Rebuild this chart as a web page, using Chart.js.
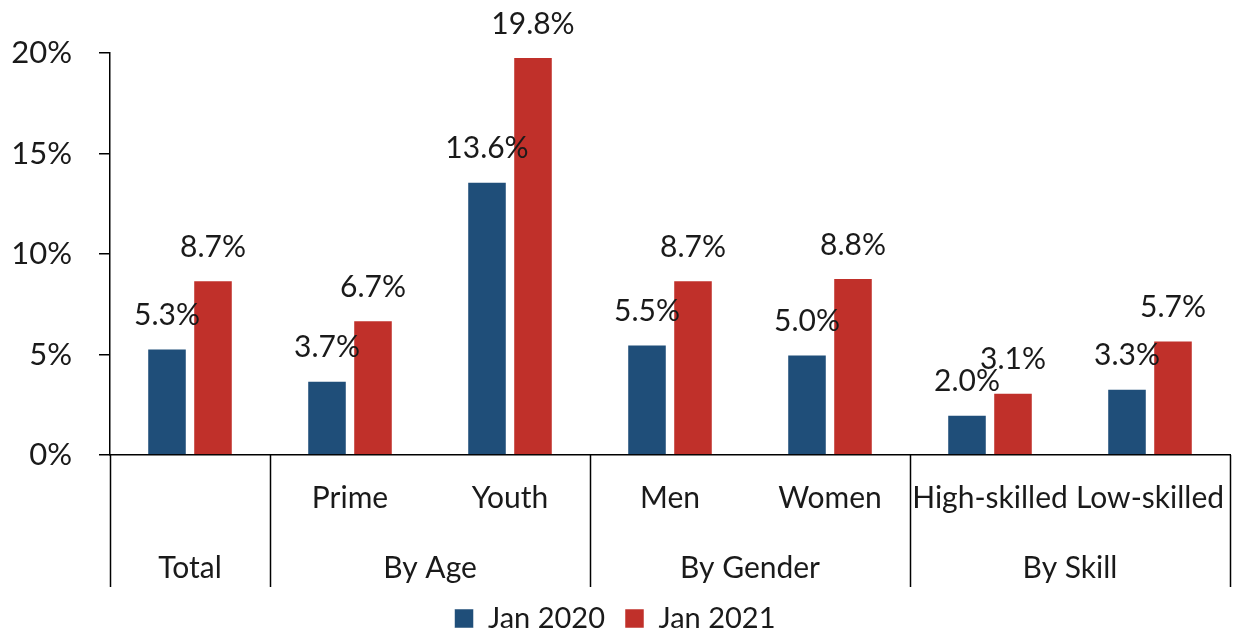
<!DOCTYPE html>
<html>
<head>
<meta charset="utf-8">
<script src="https://cdn.jsdelivr.net/npm/chart.js@4"></script>
<style>
    html, body { margin: 0; padding: 0; background: #fff; }
    #wrap { width: 1235px; height: 631px; }
</style>
</head>
<body>
<div id="wrap"><canvas id="unempChart" width="1235" height="631"></canvas></div>
<script>
// categories and groups
const categories = ['Total', 'Prime', 'Youth', 'Men', 'Women', 'High-skilled', 'Low-skilled'];
const catLabels = ['', 'Prime', 'Youth', 'Men', 'Women', 'High-skilled', 'Low-skilled'];
const groupNames = ['Total', 'By Age', 'By Gender', 'By Skill'];
const groupStart = [0, 1, 3, 5];
const groupEnd = [0, 2, 4, 6];

// series values (%)
const jan2020 = [5.3, 3.7, 13.6, 5.5, 5.0, 2.0, 3.3];
const jan2021 = [8.7, 6.7, 19.8, 8.7, 8.8, 3.1, 5.7];
const yTicks = [0, 5, 10, 15, 20];

const FONT = 'Lato, "Open Sans", sans-serif';
const TEXT = '#1a1a1a';

document.addEventListener('DOMContentLoaded', () => {
    // value labels above bars + two-level x axis
    const decorations = {
        id: 'decorations',
        afterDatasetsDraw(chart) {
            const ctx = chart.ctx;
            ctx.save();
            ctx.font = '30px ' + FONT;
            ctx.fillStyle = TEXT;
            ctx.textAlign = 'center';
            ctx.textBaseline = 'middle';
            chart.data.datasets.forEach((ds, i) => {
                chart.getDatasetMeta(i).data.forEach((bar, j) => {
                    ctx.fillText(ds.data[j].toFixed(1) + '%', bar.x, bar.y - 33);
                });
            });
            ctx.restore();
        },
        afterDraw(chart) {
            const ctx = chart.ctx;
            const x = chart.scales.x;
            const area = chart.chartArea;
            const half = (x.getPixelForValue(1) - x.getPixelForValue(0)) / 2;
            ctx.save();
            ctx.strokeStyle = '#000';
            ctx.lineWidth = 1.5;
            const edges = [x.getPixelForValue(0) - half];
            groupEnd.forEach(e => edges.push(x.getPixelForValue(e) + half));
            edges.forEach(px => {
                ctx.beginPath();
                ctx.moveTo(Math.round(px) + 0.5, area.bottom);
                ctx.lineTo(Math.round(px) + 0.5, area.bottom + 132);
                ctx.stroke();
            });
            ctx.font = '30px ' + FONT;
            ctx.fillStyle = TEXT;
            ctx.textAlign = 'center';
            ctx.textBaseline = 'middle';
            catLabels.forEach((lab, i) => {
                ctx.fillText(lab, x.getPixelForValue(i), area.bottom + 43);
            });
            groupNames.forEach((g, k) => {
                const cx = (x.getPixelForValue(groupStart[k]) + x.getPixelForValue(groupEnd[k])) / 2;
                ctx.fillText(g, cx, area.bottom + 113);
            });
            ctx.restore();
        }
    };

    const ctx = document.getElementById('unempChart').getContext('2d');
    new Chart(ctx, {
        type: 'bar',
        data: {
            labels: categories,
            datasets: [{
                label: 'Jan 2020',
                data: jan2020,
                backgroundColor: '#1F4E79',
                borderColor: 'rgba(255,255,255,0.5)',
                borderWidth: 1
            }, {
                label: 'Jan 2021',
                data: jan2021,
                backgroundColor: '#C0302A',
                borderColor: 'rgba(255,255,255,0.5)',
                borderWidth: 1
            }]
        },
        options: {
            responsive: false,
            animation: false,
            layout: { padding: { top: 53, right: 5, bottom: -12, left: 0 } },
            datasets: {
                bar: { categoryPercentage: 0.575, barPercentage: 0.86 }
            },
            scales: {
                x: {
                    grid: { display: false },
                    border: { display: true, color: '#000', width: 1.5 },
                    ticks: { display: false },
                    afterFit: (scale) => { scale.height = 129; }
                },
                y: {
                    min: 0,
                    max: 20,
                    afterBuildTicks: (scale) => { scale.ticks = yTicks.map(v => ({ value: v })); },
                    grid: { drawOnChartArea: false, tickLength: 11, color: '#000', lineWidth: 1.5 },
                    border: { display: true, color: '#000', width: 1.5 },
                    ticks: {
                        padding: 27,
                        color: TEXT,
                        font: { family: FONT, size: 31 },
                        callback: (v) => v + '%'
                    },
                    afterFit: (scale) => { scale.width = 110; }
                }
            },
            plugins: {
                tooltip: { enabled: false },
                legend: {
                    position: 'bottom',
                    labels: {
                        boxWidth: 19,
                        boxHeight: 19,
                        padding: 20,
                        color: TEXT,
                        font: { family: FONT, size: 29, lineHeight: 0.9 }
                    }
                }
            }
        },
        plugins: [decorations]
    });
});
</script>
</body>
</html>
